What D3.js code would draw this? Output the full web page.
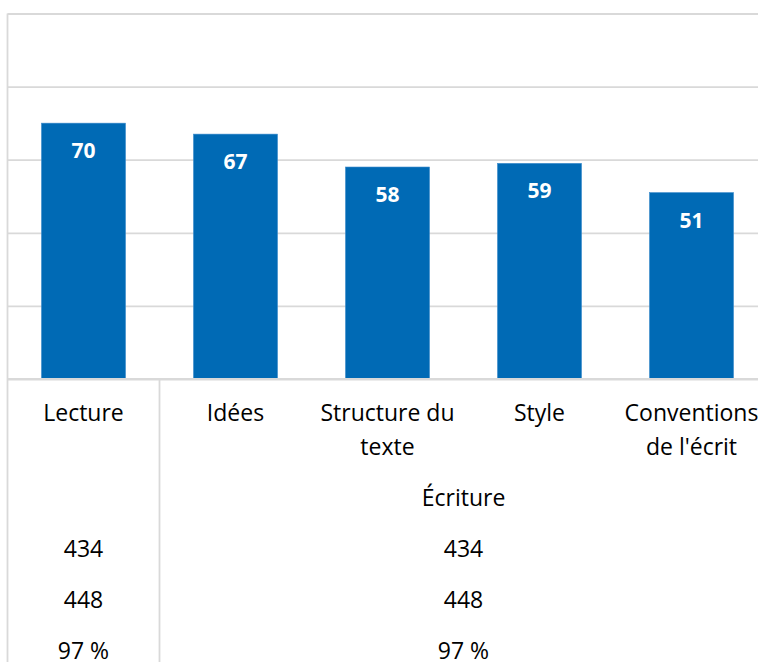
<!DOCTYPE html>
<html>
<head>
<meta charset="utf-8">
<script src="https://cdn.jsdelivr.net/npm/d3@7"></script>
<style>
  html, body { margin: 0; padding: 0; background: #fff; overflow: hidden; }
  svg { display: block; font-family: "Open Sans", sans-serif; }
  .grid line { stroke: #d9d9d9; stroke-width: 1.8; }
  .grid path { display: none; }
</style>
</head>
<body>
<div id="chart"></div>
<script>
var categories = ["Lecture", "Idées", "Structure du texte", "Style", "Conventions de l'écrit"];
var category_lines = [["Lecture"], ["Idées"], ["Structure du", "texte"], ["Style"], ["Conventions", "de l'écrit"]];
var values = [70, 67, 58, 59, 51];
var y_ticks = [0, 20, 40, 60, 80, 100];

// table under the axis: one column for Lecture, one group for Écriture
var groups = [
    { name: "", from: "Lecture", to: "Lecture", rows: ["434", "448", "97 %"] },
    { name: "Écriture", from: "Idées", to: "Conventions de l'écrit", rows: ["434", "448", "97 %"] }
];

var W = 758, H = 662;
var plotLeft = 7.5, plotRight = 767.5, plotTop = 13.5, base = 379;
var fontSize = 23;

var x = d3.scaleBand().domain(categories).range([plotLeft, plotRight])
    .paddingInner(0.447).paddingOuter(0.2235);
var y = d3.scaleLinear().domain([0, 100]).range([base, plotTop]);

var svg = d3.select("#chart").append("svg")
    .attr("width", W).attr("height", H);

svg.append("g").attr("class", "grid")
    .attr("transform", "translate(" + plotLeft + ",0)")
    .call(d3.axisLeft(y).tickValues(y_ticks).tickSize(-(W - plotLeft)).tickFormat(''));

// left border and group divider
svg.append("line").attr("x1", plotLeft).attr("x2", plotLeft).attr("y1", plotTop).attr("y2", H)
    .attr("stroke", "#d9d9d9").attr("stroke-width", 1.8);

var divX = (x("Lecture") + x.bandwidth() + x("Idées")) / 2;
svg.append("line").attr("x1", divX).attr("x2", divX).attr("y1", base).attr("y2", H)
    .attr("stroke", "#d9d9d9").attr("stroke-width", 1.8);

svg.selectAll(".bar")
    .data(values)
    .enter()
    .append("rect")
        .attr("class", "bar")
        .attr("x", (d, i) => x(categories[i]))
        .attr("y", d => y(d))
        .attr("width", x.bandwidth())
        .attr("height", d => base - y(d))
        .attr("fill", "#006ab5")
        .attr("stroke", "#3d8ccc")
        .attr("stroke-width", 0.6);

// redraw the baseline over the bars
svg.append("line").attr("x1", plotLeft).attr("x2", W).attr("y1", base).attr("y2", base)
    .attr("stroke", "#d9d9d9").attr("stroke-width", 1.8);

svg.selectAll(".val")
    .data(values)
    .enter()
    .append("text")
        .attr("class", "val")
        .attr("x", (d, i) => x(categories[i]) + x.bandwidth() / 2)
        .attr("y", d => y(d) + 35)
        .attr("text-anchor", "middle")
        .attr("fill", "#fff")
        .attr("font-weight", "bold")
        .attr("font-size", 21)
        .text(d => d);

category_lines.forEach((lines, i) => {
    var t = svg.append("text")
        .attr("text-anchor", "middle")
        .attr("font-size", fontSize)
        .attr("fill", "#000");
    lines.forEach((s, j) => {
        t.append("tspan")
            .attr("x", x(categories[i]) + x.bandwidth() / 2)
            .attr("y", 421 + j * 34)
            .text(s);
    });
});

groups.forEach(g => {
    var cx = (x(g.from) + x(g.to) + x.bandwidth()) / 2;
    if (g.name) {
        svg.append("text").attr("x", cx).attr("y", 506)
            .attr("text-anchor", "middle").attr("font-size", fontSize).text(g.name);
    }
    g.rows.forEach((r, k) => {
        svg.append("text").attr("x", cx).attr("y", 557 + k * 51)
            .attr("text-anchor", "middle").attr("font-size", fontSize).text(r);
    });
});
</script>
</body>
</html>
